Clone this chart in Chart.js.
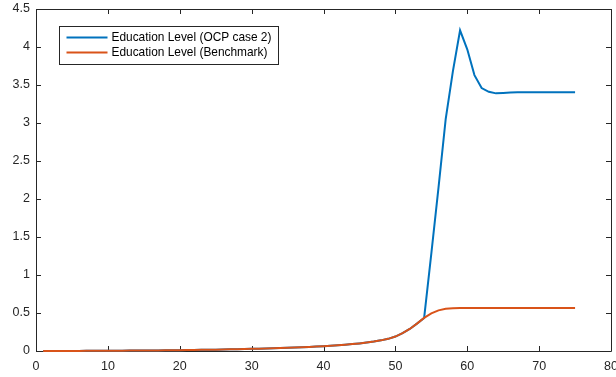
<!DOCTYPE html>
<html>
<head>
<meta charset="utf-8">
<script src="https://cdn.jsdelivr.net/npm/chart.js@4/dist/chart.umd.min.js"></script>
<style>
    html, body { margin: 0; padding: 0; background: #fff; }
    #wrap { position: relative; width: 616px; height: 377px; }
</style>
</head>
<body>
<div id="wrap"><canvas id="chart" width="616" height="377"></canvas></div>
<script>

// ############################### DATA ###############################

var ages = [1, 2, 3, 4, 5, 6, 7, 8, 9, 10,
    11, 12, 13, 14, 15, 16, 17, 18, 19, 20,
    21, 22, 23, 24, 25, 26, 27, 28, 29, 30,
    31, 32, 33, 34, 35, 36, 37, 38, 39, 40,
    41, 42, 43, 44, 45, 46, 47, 48, 49, 50,
    51, 52, 53, 54, 55, 56, 57, 58, 59, 60,
    61, 62, 63, 64, 65, 66, 67, 68, 69, 70,
    71, 72, 73, 74, 75];

var educationBenchmark = [0.000, 0.000, 0.000, 0.001, 0.001, 0.001, 0.002, 0.002, 0.003, 0.003,
    0.004, 0.004, 0.005, 0.006, 0.006, 0.007, 0.008, 0.009, 0.010, 0.011,
    0.012, 0.014, 0.015, 0.017, 0.018, 0.020, 0.022, 0.024, 0.026, 0.028,
    0.031, 0.033, 0.036, 0.039, 0.042, 0.046, 0.050, 0.054, 0.059, 0.064,
    0.070, 0.076, 0.083, 0.091, 0.100, 0.111, 0.124, 0.140, 0.160, 0.190,
    0.235, 0.290, 0.360, 0.435, 0.495, 0.535, 0.555, 0.562, 0.565, 0.565,
    0.565, 0.565, 0.565, 0.565, 0.565, 0.565, 0.565, 0.565, 0.565, 0.565,
    0.565, 0.565, 0.565, 0.565, 0.565];

var educationOcp = [0.000, 0.000, 0.000, 0.001, 0.001, 0.001, 0.002, 0.002, 0.003, 0.003,
    0.004, 0.004, 0.005, 0.006, 0.006, 0.007, 0.008, 0.009, 0.010, 0.011,
    0.012, 0.014, 0.015, 0.017, 0.018, 0.020, 0.022, 0.024, 0.026, 0.028,
    0.031, 0.033, 0.036, 0.039, 0.042, 0.046, 0.050, 0.054, 0.059, 0.064,
    0.070, 0.076, 0.083, 0.091, 0.100, 0.111, 0.124, 0.140, 0.160, 0.190,
    0.235, 0.290, 0.360, 0.435, 1.280, 2.150, 3.050, 3.680, 4.220, 3.970,
    3.630, 3.460, 3.410, 3.390, 3.395, 3.400, 3.405, 3.405, 3.405, 3.405,
    3.405, 3.405, 3.405, 3.405, 3.405];

var seriesNames = ['Education Level (OCP case 2)', 'Education Level (Benchmark)'];
var seriesColors = ['#0072BD', '#D95319'];

var xTicks = [0, 10, 20, 30, 40, 50, 60, 70, 80];
var xTickLabels = ['0', '10', '20', '30', '40', '50', '60', '70', '80'];
var yTicks = [0, 0.5, 1, 1.5, 2, 2.5, 3, 3.5, 4, 4.5];
var yTickLabels = ['0', '0.5', '1', '1.5', '2', '2.5', '3', '3.5', '4', '4.5'];

var axisColor = '#262626';
var tickFont = { family: 'Liberation Sans, Arial, sans-serif', size: 12.5 };

function toPoints(xs, ys) {
    return xs.map(function (x, i) { return { x: x, y: ys[i] }; });
}

// ####################### MATLAB STYLE BOX + INWARD TICKS #######################

var boxPlugin = {
    id: 'box',
    beforeDatasetsDraw: function (chart) {
        var ctx = chart.ctx;
        var a = chart.chartArea;
        var xs = chart.scales.x, ys = chart.scales.y;
        var len = 5;

        ctx.save();
        ctx.strokeStyle = axisColor;
        ctx.lineWidth = 1;
        ctx.beginPath();
        ctx.rect(Math.round(a.left) + 0.5, Math.round(a.top) + 0.5,
            Math.round(a.right - a.left), Math.round(a.bottom - a.top));

        xTicks.forEach(function (v) {
            var px = Math.round(xs.getPixelForValue(v)) + 0.5;
            ctx.moveTo(px, a.bottom);
            ctx.lineTo(px, a.bottom - len);
            ctx.moveTo(px, a.top);
            ctx.lineTo(px, a.top + len);
        });
        yTicks.forEach(function (v) {
            var py = Math.round(ys.getPixelForValue(v)) + 0.5;
            ctx.moveTo(a.left, py);
            ctx.lineTo(a.left + len, py);
            ctx.moveTo(a.right, py);
            ctx.lineTo(a.right - len, py);
        });
        ctx.stroke();
        ctx.restore();
    }
};

// ####################### LEGEND BOX (inside the axes) #######################

var legendPlugin = {
    id: 'boxLegend',
    afterDraw: function (chart) {
        var ctx = chart.ctx;
        var a = chart.chartArea;
        var bx = Math.round(a.left) + 23.5;
        var by = Math.round(a.top) + 17.5;
        var bw = 219, bh = 38;

        ctx.save();
        ctx.fillStyle = '#fff';
        ctx.fillRect(bx, by, bw, bh);
        ctx.strokeStyle = axisColor;
        ctx.lineWidth = 1;
        ctx.strokeRect(bx, by, bw, bh);

        ctx.font = '11.9px Liberation Sans, Arial, sans-serif';
        ctx.textBaseline = 'middle';
        ctx.textAlign = 'left';
        for (var i = 0; i < seriesNames.length; i++) {
            var ly = by + 11 + i * 15;
            ctx.strokeStyle = seriesColors[i];
            ctx.lineWidth = 2;
            ctx.beginPath();
            ctx.moveTo(bx + 7, ly);
            ctx.lineTo(bx + 48, ly);
            ctx.stroke();
            ctx.fillStyle = '#000';
            ctx.fillText(seriesNames[i], bx + 52, ly);
        }
        ctx.restore();
    }
};

// ############################### MAIN ###############################

var chart = new Chart(document.getElementById('chart'), {
    type: 'line',
    data: {
        datasets: [{
            label: seriesNames[0],
            data: toPoints(ages, educationOcp),
            borderColor: seriesColors[0],
            borderWidth: 2,
            pointRadius: 0,
            tension: 0,
            fill: false,
            clip: false,
            order: 1
        }, {
            label: seriesNames[1],
            data: toPoints(ages, educationBenchmark),
            borderColor: seriesColors[1],
            borderWidth: 2,
            pointRadius: 0,
            tension: 0,
            fill: false,
            clip: false,
            order: 0
        }]
    },
    options: {
        responsive: false,
        animation: false,
        devicePixelRatio: 1,
        layout: { padding: { left: 0, right: 5, top: 9, bottom: 0 } },
        plugins: {
            legend: { display: false },
            tooltip: { enabled: false }
        },
        scales: {
            x: {
                type: 'linear',
                min: 0,
                max: 80,
                grid: { display: false, drawTicks: false },
                border: { display: false },
                afterBuildTicks: function (scale) {
                    scale.ticks = xTicks.map(function (v) { return { value: v }; });
                },
                afterFit: function (scale) {
                    scale.height = 26;
                    scale.paddingLeft = 0;
                    scale.paddingRight = 0;
                },
                ticks: {
                    autoSkip: false,
                    maxRotation: 0,
                    padding: 8,
                    color: axisColor,
                    font: tickFont,
                    callback: function (v) { return xTickLabels[xTicks.indexOf(v)]; }
                }
            },
            y: {
                type: 'linear',
                min: 0,
                max: 4.5,
                grid: { display: false, drawTicks: false },
                border: { display: false },
                afterBuildTicks: function (scale) {
                    scale.ticks = yTicks.map(function (v) { return { value: v }; });
                },
                afterFit: function (scale) {
                    scale.width = 36;
                    scale.paddingTop = 0;
                    scale.paddingBottom = 0;
                },
                ticks: {
                    autoSkip: false,
                    padding: 6,
                    color: axisColor,
                    font: tickFont,
                    callback: function (v) { return yTickLabels[yTicks.indexOf(v)]; }
                }
            }
        }
    },
    plugins: [boxPlugin, legendPlugin]
});
</script>
</body>
</html>
